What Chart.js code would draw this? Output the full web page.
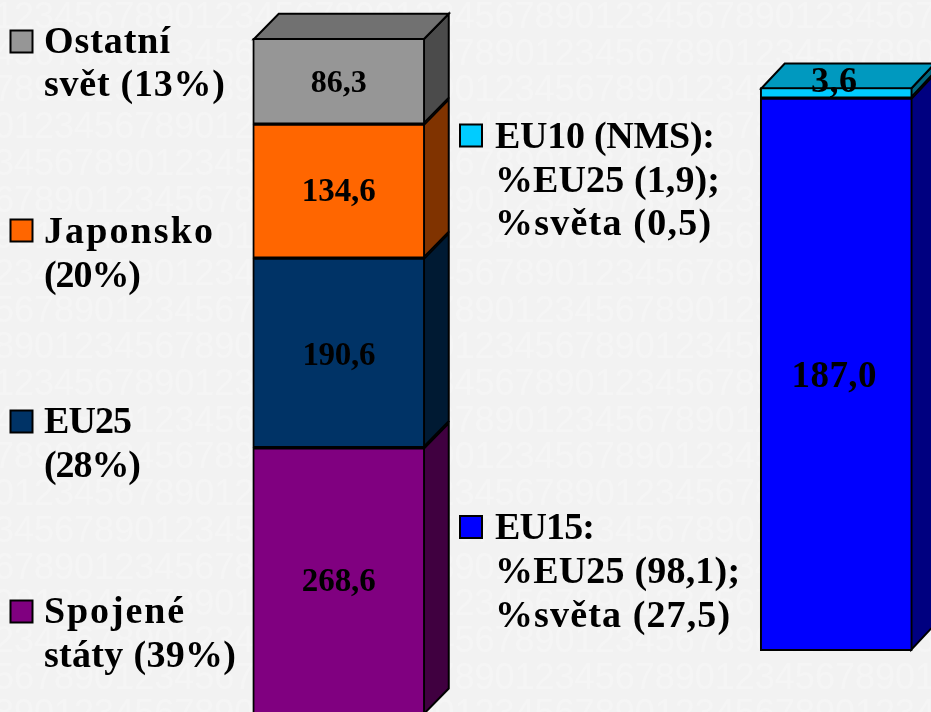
<!DOCTYPE html>
<html lang="cs">
<head>
<meta charset="utf-8">
<title>Graf</title>
<style>
html,body{margin:0;padding:0;background:#f2f2f2;overflow:hidden}
canvas{display:block}
</style>
<script src="https://cdn.jsdelivr.net/npm/chart.js@4"></script>
</head>
<body>
<canvas id="c" width="931" height="712"></canvas>
<script>
// Data
const categories = ['Svět', 'EU25'];
const leftNames = ['Spojené státy', 'EU25', 'Japonsko', 'Ostatní svět'];
const leftValues = [268.6, 190.6, 134.6, 86.3];
const leftColors = ['#800080', '#003366', '#FF6600', '#969696'];
const rightNames = ['EU15', 'EU10 (NMS)'];
const rightValues = [187.0, 3.6];
const rightColors = ['#0000FF', '#00CCFF'];

// Legend entries: colour, text lines
const legendLines = [
  ['#969696', ['Ostatní', 'svět (13%)']],
  ['#FF6600', ['Japonsko', '(20%)']],
  ['#003366', ['EU25', '(28%)']],
  ['#800080', ['Spojené', 'státy (39%)']],
  ['#00CCFF', ['EU10 (NMS):', '%EU25 (1,9);', '%světa (0,5)']],
  ['#0000FF', ['EU15:', '%EU25 (98,1);', '%světa (27,5)']]
];

// Layout of legend: swatch x, swatch y, text x, first baseline, line widths
const legendLayout = [
  {sx:10.5, sy:30.5,  tx:44,  by:52.6,  w:[126,181]},
  {sx:10.5, sy:219.5, tx:44,  by:242.7, w:[169,97]},
  {sx:10.5, sy:410.5, tx:44,  by:433,   w:[88,97]},
  {sx:10.5, sy:600.5, tx:44,  by:622.7, w:[140,192]},
  {sx:460,  sy:124.5, tx:495, by:147.7, w:[220,225,216]},
  {sx:460,  sy:516,   tx:495, by:539,   w:[100,245,235]}
];
const LEGEND_LINE = 43.8;
const SERIF = '"Liberation Serif", "Times New Roman", serif';

// Value-label widths
const labelWidths = {'86,3':56,'134,6':74,'190,6':73,'268,6':74,'187,0':85,'3,6':46};
const labelDrop = {'86,3':10.4,'134,6':10,'190,6':12,'268,6':10,'187,0':12.5,'3,6':-1};
const labelSize = {'86,3':32,'134,6':33,'190,6':33,'268,6':33,'187,0':37,'3,6':36};

// Decorative background digits
const bgDigits = '1234567890';

function shade(hex, f){
  const n = parseInt(hex.slice(1),16);
  const c = s => Math.round(((n>>s)&255)*f);
  return `rgb(${c(16)},${c(8)},${c(0)})`;
}

function fitText(ctx, text, x, y, target){
  ctx.letterSpacing = '0px';
  const natural = ctx.measureText(text).width;
  const sp = (target - natural) / Math.max(1, text.length - 1);
  ctx.letterSpacing = sp.toFixed(2) + 'px';
  ctx.fillText(text, x, y);
  ctx.letterSpacing = '0px';
}

const scene = {
  id: 'scene',
  beforeDraw(chart){
    const ctx = chart.ctx, W = chart.width, H = chart.height;
    ctx.save();
    ctx.fillStyle = '#f2f2f2';
    ctx.fillRect(0,0,W,H);
    ctx.fillStyle = '#f5f5f5';
    ctx.font = '36px "Liberation Sans", Arial, sans-serif';
    ctx.textAlign = 'left';
    ctx.textBaseline = 'alphabetic';
    for (let r = 0; r < 20; r++){
      let s = '';
      for (let i = 0; i < 50; i++) s += bgDigits[(i + r*3) % 10];
      ctx.fillText(s, -6, 28 + r*36.7);
    }
    ctx.restore();
  },
  beforeDatasetsDraw(chart){
    const ctx = chart.ctx;
    const groups = [{idx:[0,1,2,3], dx:25, dy:25.5}, {idx:[4,5], dx:23.5, dy:25}];
    ctx.save();
    ctx.strokeStyle = '#000';
    ctx.lineWidth = 2;
    ctx.lineJoin = 'miter';
    const poly = (pts, fill) => {
      ctx.beginPath();
      pts.forEach((p,i)=> i ? ctx.lineTo(p[0],p[1]) : ctx.moveTo(p[0],p[1]));
      ctx.closePath();
      ctx.fillStyle = fill;
      ctx.fill();
      ctx.stroke();
    };
    groups.forEach(g => {
      const col = g.idx[0] === 0 ? 0 : 1;
      g.idx.forEach((d, k) => {
        const el = chart.getDatasetMeta(d).data[col];
        const color = chart.data.datasets[d].backgroundColor;
        const l = el.x - el.width/2 + 1, r = el.x + el.width/2 - 1;
        const t = el.y + 1, b = el.base - 1;
        poly([[r,t],[r+g.dx,t-g.dy],[r+g.dx,b-g.dy],[r,b]], shade(color,.5));
        if (k === g.idx.length-1){
          poly([[l,t],[l+g.dx,t-g.dy],[r+g.dx,t-g.dy],[r,t]], shade(color,.75));
        }
      });
    });
    ctx.restore();
  },
  afterDatasetsDraw(chart){
    const ctx = chart.ctx;
    ctx.save();
    ctx.fillStyle = '#000';
    ctx.textBaseline = 'alphabetic';
    // value labels
    ctx.textAlign = 'center';
    chart.data.datasets.forEach((ds, d) => {
      const col = d < 4 ? 0 : 1;
      const el = chart.getDatasetMeta(d).data[col];
      const txt = ds.data[col].toFixed(1).replace('.', ',');
      ctx.font = 'bold ' + labelSize[txt] + 'px ' + SERIF;
      fitText(ctx, txt, el.x - (col?2:0), (el.y + el.base)/2 + labelDrop[txt], labelWidths[txt]);
    });
    // legend
    ctx.textAlign = 'left';
    ctx.font = 'bold 38px ' + SERIF;
    legendLines.forEach(([color, lines], i) => {
      const L = legendLayout[i];
      ctx.fillStyle = color;
      ctx.strokeStyle = '#000';
      ctx.lineWidth = 2;
      ctx.fillRect(L.sx, L.sy, 22, 22);
      ctx.strokeRect(L.sx, L.sy, 22, 22);
      ctx.fillStyle = '#000';
      lines.forEach((line, j) => fitText(ctx, line, L.tx, L.by + j*LEGEND_LINE, L.w[j]));
    });
    ctx.restore();
  }
};

const mk = (label, value, color, col, axis, thick) => ({
  label, backgroundColor: color, borderColor:'#000', borderWidth:2, borderSkipped:false,
  data: col === 0 ? [value, null] : [null, value],
  yAxisID: axis, stack:'s', barThickness: thick, clip:false
});

new Chart(document.getElementById('c'), {
  type:'bar',
  data:{
    labels: categories,
    datasets:[
      ...leftValues.map((v,i)=>mk(leftNames[i], v, leftColors[i], 0, 'y', 172)),
      ...rightValues.map((v,i)=>mk(rightNames[i], v, rightColors[i], 1, 'y1', 152))
    ]
  },
  options:{
    responsive:false,
    animation:false,
    layout:{padding:{left:338.75, right:94.75, top:0, bottom:0}},
    plugins:{legend:{display:false}, tooltip:{enabled:false}, title:{display:false}},
    scales:{
      x:{display:false, stacked:true, offset:false},
      y:{display:false, stacked:true, min:3.015, max:718.6},
      y1:{display:false, stacked:true, min:-20.78, max:220.2}
    }
  },
  plugins:[scene]
});
</script>
</body>
</html>
